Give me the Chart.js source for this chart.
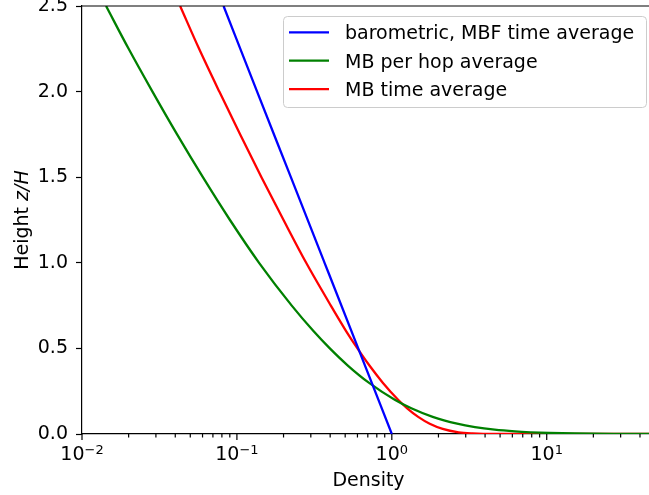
<!DOCTYPE html>
<html>
<head>
<meta charset="utf-8">
<script src="https://cdn.jsdelivr.net/npm/chart.js@4.4.1/dist/chart.umd.min.js"></script>
<style>
  html, body { margin: 0; padding: 0; background: #fff; overflow: hidden; }
  #wrap { width: 649px; height: 495px; overflow: hidden; }
</style>
</head>
<body>
<div id="wrap"><canvas id="chart" width="656" height="495"></canvas></div>
<script>
// values (density on x, height z/H on y)
const baroHeight = [2.5, 2.0, 1.5, 1.0, 0.5, 0.0];
const baroDensity = [0.082, 0.135, 0.223, 0.368, 0.607, 1.0];

const hopHeight = [2.5, 2.25, 2.0, 1.75, 1.5, 1.25, 1.0, 0.75, 0.6, 0.5, 0.4, 0.3, 0.2, 0.15, 0.1,
                   0.06, 0.04, 0.025, 0.015, 0.01, 0.006, 0.003, 0.001, 0.0004, 0.0003];
const hopDensity = [0.0143, 0.0200, 0.0285, 0.0411, 0.0603, 0.0902, 0.139, 0.226, 0.313, 0.398, 0.520, 0.710, 1.045, 1.336, 1.836,
                    2.64, 3.44, 4.61, 6.24, 7.87, 10.4, 15.2, 27.0, 43.3, 50];

const timeHeight = [2.5, 2.25, 2.0, 1.75, 1.5, 1.25, 1.0, 0.75, 0.6, 0.5, 0.4, 0.3, 0.2, 0.15, 0.1,
                    0.06, 0.03, 0.01, 0.003, 0.0008, 0.0];
const timeDensity = [0.043, 0.057, 0.077, 0.105, 0.144, 0.200, 0.280, 0.404, 0.508, 0.600, 0.717, 0.874, 1.098, 1.257, 1.48,
                     1.757, 2.13, 2.70, 3.31, 3.9, 50];

const seriesLabels = ['barometric, MBF time average', 'MB per hop average', 'MB time average'];
const seriesColors = ['#0000ff', '#008000', '#ff0000'];

const xMajorTicks = [0.01, 0.1, 1, 10];
const xMajorExp = ['\u22122', '\u22121', '0', '1'];
const yTicks = [0, 0.5, 1.0, 1.5, 2.0, 2.5];

const FONT = "'DejaVu Sans', 'Liberation Sans', sans-serif";
const FS = 19;

function toPoints(xs, ys) {
    return xs.map((x, i) => ({ x: x, y: ys[i] }));
}

const decor = {
    id: 'decor',
    afterDraw(chart) {
        const ctx = chart.ctx;
        const area = chart.chartArea;
        const xs = chart.scales.x;

        ctx.save();
        ctx.strokeStyle = '#000';
        ctx.lineWidth = 1.2;
        // top and right spines
        ctx.beginPath();
        ctx.moveTo(area.left, area.top);
        ctx.lineTo(area.right, area.top);
        ctx.lineTo(area.right, area.bottom);
        ctx.stroke();

        // x ticks, major and minor
        ctx.beginPath();
        xMajorTicks.forEach(d => {
            const px = xs.getPixelForValue(d);
            ctx.moveTo(px, area.bottom);
            ctx.lineTo(px, area.bottom + 6);
            for (let m = 2; m <= 9; m++) {
                const v = m * d;
                if (v > xs.max) break;
                const mp = xs.getPixelForValue(v);
                ctx.moveTo(mp, area.bottom);
                ctx.lineTo(mp, area.bottom + 3.5);
            }
        });
        ctx.stroke();

        // x tick labels 10^n
        ctx.fillStyle = '#000';
        ctx.textBaseline = 'alphabetic';
        ctx.textAlign = 'left';
        xMajorTicks.forEach((d, i) => {
            const px = xs.getPixelForValue(d);
            ctx.font = FS + 'px ' + FONT;
            const w1 = ctx.measureText('10').width;
            ctx.font = '13px ' + FONT;
            const w2 = ctx.measureText(xMajorExp[i]).width;
            const x0 = px - (w1 + w2) / 2;
            ctx.font = FS + 'px ' + FONT;
            ctx.fillText('10', x0, area.bottom + 26);
            ctx.font = '13px ' + FONT;
            ctx.fillText(xMajorExp[i], x0 + w1, area.bottom + 20);
        });

        // y axis title with italic z/H
        ctx.save();
        ctx.translate(28, (area.top + area.bottom) / 2);
        ctx.rotate(-Math.PI / 2);
        ctx.font = FS + 'px ' + FONT;
        const wa = ctx.measureText('Height ').width;
        ctx.font = 'italic ' + FS + 'px ' + FONT;
        const wb = ctx.measureText('z/H').width;
        ctx.font = FS + 'px ' + FONT;
        ctx.fillText('Height ', -(wa + wb) / 2, 0);
        ctx.font = 'italic ' + FS + 'px ' + FONT;
        ctx.fillText('z/H', -(wa + wb) / 2 + wa, 0);
        ctx.restore();

        // legend
        const lx = 283, ly = 16, lw = 363, lh = 91;
        ctx.beginPath();
        ctx.roundRect(lx + 0.5, ly + 0.5, lw, lh, 4);
        ctx.fillStyle = 'rgba(255,255,255,0.8)';
        ctx.fill();
        ctx.strokeStyle = '#cccccc';
        ctx.lineWidth = 1;
        ctx.stroke();
        ctx.font = FS + 'px ' + FONT;
        chart.data.datasets.forEach((ds, i) => {
            const y = 32.3 + i * 28.4;
            ctx.strokeStyle = ds.borderColor;
            ctx.lineWidth = 2.3;
            ctx.beginPath();
            ctx.moveTo(289, y);
            ctx.lineTo(329, y);
            ctx.stroke();
            ctx.fillStyle = '#000';
            ctx.fillText(ds.label, 345, y + 7);
        });
        ctx.restore();
    }
};

new Chart(document.getElementById('chart'), {
    type: 'scatter',
    data: {
        datasets: [
            { label: seriesLabels[0], data: toPoints(baroDensity, baroHeight), borderColor: seriesColors[0], tension: 0 },
            { label: seriesLabels[1], data: toPoints(hopDensity, hopHeight), borderColor: seriesColors[1] },
            { label: seriesLabels[2], data: toPoints(timeDensity, timeHeight), borderColor: seriesColors[2] }
        ].map(ds => Object.assign({
            showLine: true, pointRadius: 0, borderWidth: 2.3, fill: false,
            cubicInterpolationMode: 'monotone'
        }, ds))
    },
    options: {
        responsive: false,
        animation: false,
        layout: { padding: { top: 6, right: 1, left: 0, bottom: 0 } },
        plugins: {
            legend: { display: false },
            tooltip: { enabled: false }
        },
        scales: {
            x: {
                type: 'logarithmic',
                position: 'bottom',
                min: 0.01,
                max: 50,
                grid: { display: false },
                border: { display: true, color: '#000', width: 1.2 },
                ticks: { display: false },
                title: {
                    display: true,
                    text: 'Density',
                    color: '#000',
                    font: { family: FONT, size: FS },
                    padding: { top: 0, bottom: 3 }
                },
                afterFit: s => { s.height = 61; s.paddingLeft = 0; s.paddingRight = 0; }
            },
            y: {
                type: 'linear',
                min: 0,
                max: 2.5,
                afterBuildTicks: s => { s.ticks = yTicks.map(v => ({ value: v })); },
                grid: {
                    display: true,
                    drawOnChartArea: false,
                    drawTicks: true,
                    tickLength: 6,
                    tickColor: '#000',
                    tickWidth: 1.2
                },
                border: { display: true, color: '#000', width: 1.2 },
                ticks: {
                    color: '#000',
                    padding: 8,
                    font: { family: FONT, size: FS },
                    callback: v => v.toFixed(1)
                },
                afterFit: s => { s.width = 82; s.paddingTop = 0; s.paddingBottom = 0; }
            }
        }
    },
    plugins: [decor]
});
</script>
</body>
</html>
